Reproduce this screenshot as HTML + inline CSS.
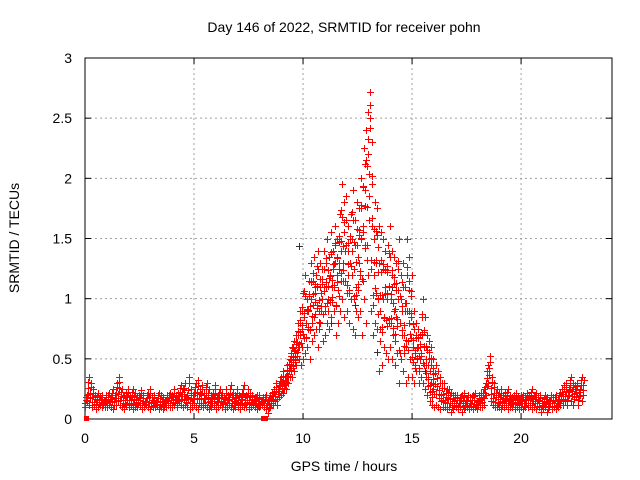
<!DOCTYPE html>
<html><head><meta charset="utf-8"><style>
body{margin:0;background:#fff;}
svg{display:block;font-family:"Liberation Sans",sans-serif;}
</style></head><body>
<svg id="chart" width="640" height="480">
<text x="344" y="32" font-size="14" text-anchor="middle">Day 146 of 2022, SRMTID for receiver pohn</text>
<text transform="translate(19,238) rotate(-90)" font-size="14" text-anchor="middle">SRMTID / TECUs</text>
<text x="344" y="471" font-size="14" text-anchor="middle">GPS time / hours</text>
<g id="grid"></g>
<g id="axes"></g>
<g id="marks" shape-rendering="crispEdges"></g>
</svg>
<script>
const xTicks=[0,5,10,15,20];
const yTicks=[0,0.5,1,1.5,2,2.5,3];
const yTickLabels=["0","0.5","1","1.5","2","2.5","3"];
const t0=0, dt=0.1;
const hi=[0.2,0.35,0.3,0.25,0.2,0.22,0.18,0.2,0.15,0.2,
0.22,0.18,0.25,0.2,0.3,0.35,0.25,0.2,0.22,0.25,
0.2,0.25,0.22,0.18,0.2,0.24,0.2,0.15,0.22,0.25,
0.18,0.2,0.15,0.22,0.2,0.18,0.15,0.2,0.22,0.2,
0.25,0.2,0.22,0.28,0.25,0.3,0.2,0.35,0.25,0.22,
0.3,0.32,0.25,0.28,0.22,0.3,0.25,0.2,0.22,0.28,
0.2,0.25,0.22,0.18,0.25,0.2,0.28,0.22,0.2,0.25,
0.2,0.22,0.28,0.2,0.25,0.22,0.2,0.18,0.2,0.2,
0.15,0.18,0.2,0.15,0.2,0.22,0.25,0.3,0.28,0.35,
0.4,0.35,0.45,0.5,0.6,0.65,0.7,0.8,0.9,1.05,
1.2,1.0,1.15,1.3,1.35,1.2,1.4,1.3,1.25,1.4,
1.5,1.35,1.55,1.4,1.6,1.5,1.7,1.95,1.8,1.85,
1.6,1.7,1.9,1.65,1.8,1.75,2.0,2.25,2.4,2.55,
2.72,2.3,1.8,1.75,1.6,1.55,1.5,1.4,1.45,1.6,
1.4,1.35,1.3,1.5,1.2,1.3,1.1,1.5,1.35,1.2,
0.9,0.8,0.75,0.7,1.0,0.85,0.7,0.65,0.6,0.5,
0.45,0.4,0.35,0.3,0.3,0.25,0.25,0.22,0.2,0.2,
0.2,0.18,0.2,0.22,0.15,0.2,0.18,0.2,0.22,0.15,
0.2,0.22,0.25,0.3,0.45,0.52,0.35,0.3,0.25,0.22,
0.25,0.2,0.22,0.25,0.2,0.18,0.2,0.22,0.18,0.2,
0.2,0.18,0.22,0.2,0.25,0.2,0.22,0.18,0.2,0.15,
0.2,0.18,0.15,0.2,0.18,0.2,0.15,0.22,0.25,0.28,
0.3,0.25,0.35,0.3,0.28,0.3,0.25,0.35,0.32];
const lo=[0.1,0.15,0.12,0.1,0.12,0.08,0.1,0.12,0.1,0.1,
0.1,0.12,0.1,0.08,0.12,0.15,0.12,0.1,0.08,0.12,
0.1,0.12,0.08,0.1,0.1,0.12,0.08,0.1,0.12,0.1,
0.08,0.1,0.1,0.12,0.08,0.1,0.08,0.1,0.12,0.1,
0.1,0.12,0.1,0.15,0.12,0.1,0.12,0.1,0.08,0.1,
0.12,0.1,0.08,0.12,0.1,0.12,0.1,0.08,0.1,0.12,
0.08,0.1,0.12,0.1,0.08,0.1,0.12,0.1,0.08,0.1,
0.1,0.08,0.12,0.1,0.1,0.08,0.1,0.12,0.1,0.08,
0.1,0.12,0.1,0.08,0.05,0.1,0.12,0.15,0.12,0.18,
0.2,0.22,0.25,0.3,0.35,0.35,0.4,0.45,0.5,0.45,
0.5,0.55,0.6,0.5,0.65,0.7,0.75,0.6,0.8,0.65,
0.7,0.8,0.75,0.85,0.9,0.7,0.8,0.9,1.0,0.85,
0.9,0.8,1.0,0.75,0.7,0.85,0.9,0.7,1.0,0.8,
1.2,0.9,0.7,0.8,0.75,0.4,0.45,0.6,0.55,0.5,
0.6,0.5,0.45,0.55,0.3,0.5,0.4,0.3,0.35,0.5,
0.35,0.3,0.4,0.3,0.35,0.3,0.25,0.2,0.15,0.12,
0.1,0.12,0.1,0.08,0.1,0.1,0.08,0.1,0.06,0.08,
0.1,0.08,0.1,0.06,0.08,0.1,0.08,0.1,0.08,0.1,
0.08,0.1,0.1,0.12,0.2,0.3,0.15,0.12,0.1,0.1,
0.1,0.08,0.1,0.12,0.08,0.1,0.1,0.08,0.1,0.08,
0.1,0.08,0.1,0.1,0.12,0.08,0.1,0.08,0.1,0.06,
0.08,0.1,0.06,0.1,0.08,0.1,0.08,0.1,0.12,0.12,
0.15,0.12,0.2,0.15,0.12,0.18,0.12,0.2,0.15];
const midStart=9.0;
const mid=[0.3,0.28,0.35,0.4,0.45,0.5,0.55,0.6,0.7,0.75,
0.85,0.8,0.9,1.0,0.95,1.05,1.1,0.9,1.0,1.1,
1.1,1.0,1.2,1.1,1.3,1.2,1.25,1.4,1.3,1.45,
1.2,1.3,1.4,1.25,1.1,1.3,1.5,1.6,1.9,2.1,
2.5,1.6,1.2,1.3,1.0,0.9,1.0,1.1,1.0,1.1,
1.0,0.9,0.85,1.0,0.8,0.9,0.7,0.9,0.8,0.85,
0.6,0.55,0.6,0.5,0.7,0.6,0.45,0.35,0.3,0.25];
const blackT=[9.8,10.6,11.3,12.4,13.4,14.1,15.6];
const blackY=[1.44,0.75,0.8,0.95,0.56,1.1,0.4];
const squareT=[0.1,8.2];
const squareY=[0,0];

const X0=85,X1=612,Y0=419,Y1=58,XMAX=24.17,YMAX=3;
const sx=v=>X0+(X1-X0)*v/XMAX;
const sy=v=>Y0-(Y0-Y1)*v/YMAX;
const NS="http://www.w3.org/2000/svg";
function mk(tag,attrs,parent){const e=document.createElementNS(NS,tag);for(const k in attrs)e.setAttribute(k,attrs[k]);parent.appendChild(e);return e;}
const grid=document.getElementById('grid'),axes=document.getElementById('axes'),marks=document.getElementById('marks');
xTicks.forEach((v,i)=>{
  const x=sx(v);
  if(v>0){const g=mk('line',{x1:x,x2:x,y1:Y1,y2:Y0,stroke:'#a0a0a0','stroke-dasharray':'2,3'},grid);
  
  }
  mk('line',{x1:x,x2:x,y1:Y0,y2:Y0-6,stroke:'#000'},axes);
  mk('line',{x1:x,x2:x,y1:Y1,y2:Y1+6,stroke:'#000'},axes);
  const t=mk('text',{x:x,y:443,'font-size':14,'text-anchor':'middle'},axes);t.textContent=String(v);
  
  
});
yTicks.forEach((v,i)=>{
  const y=sy(v);
  if(v>0&&v<YMAX){const g=mk('line',{x1:X0,x2:X1,y1:y,y2:y,stroke:'#a0a0a0','stroke-dasharray':'2,3'},grid);
  
  }
  mk('line',{x1:X0,x2:X0+6,y1:y,y2:y,stroke:'#000'},axes);
  mk('line',{x1:X1,x2:X1-6,y1:y,y2:y,stroke:'#000'},axes);
  const t=mk('text',{x:72,y:y+5,'font-size':14,'text-anchor':'end'},axes);t.textContent=yTickLabels[i];
  
  
});
const border=mk('rect',{x:X0,y:Y1,width:X1-X0,height:Y0-Y1,fill:'none',stroke:'#000'},axes);


function plus(x,y){const X=Math.round(sx(x)),Y=Math.round(sy(y));return `M${X-3} ${Y}h7v1h-7zM${X} ${Y-3}h1v7h-1z`;}
const b=mk('path',{d:blackT.map((t,i)=>plus(t,blackY[i])).join(''),fill:'#333'},marks);


const fr=[0,0.3,0.55,0.8,1];
for(let s=0;s<hi.length;s+=20){
  let d='';
  for(let i=s;i<Math.min(s+20,hi.length);i++){
    fr.forEach((f,k)=>{d+=plus(t0+i*dt+k*0.02,lo[i]+(hi[i]-lo[i])*f);});
  }
  const p=mk('path',{d:d,fill:'#ff0000','fill-rule':'nonzero'},marks);
  
  
}
let dm='';
mid.forEach((v,i)=>{const j=Math.round((midStart-t0)/dt)+i;
  dm+=plus(midStart+i*dt+0.05,v);
  dm+=plus(midStart+i*dt+0.07,(v+hi[j])/2);
  dm+=plus(midStart+i*dt+0.03,(v+lo[j])/2);});
const pm=mk('path',{d:dm,fill:'#ff0000'},marks);


squareT.forEach((t,i)=>{
  const s=mk('rect',{x:sx(t)-3,y:sy(squareY[i])-3,width:i?7:5,height:5,fill:'#f00'},marks);
  
  
});
</script>
</body></html>
